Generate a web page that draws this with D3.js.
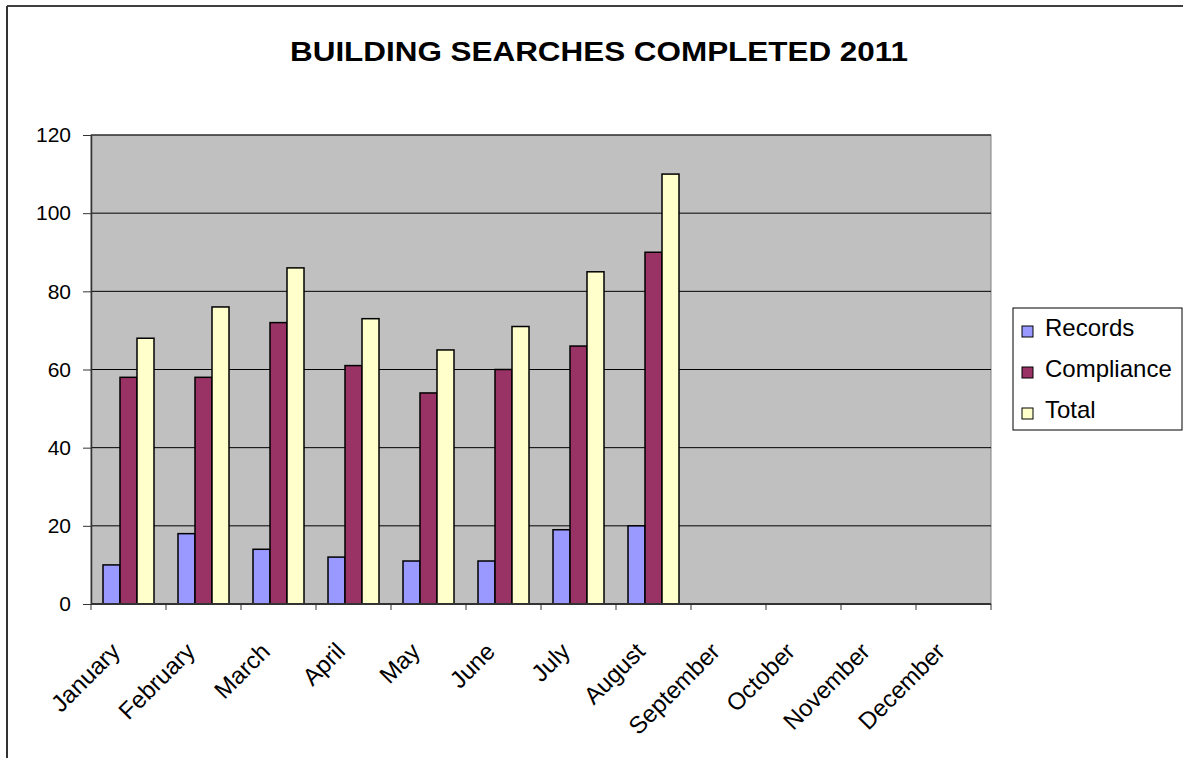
<!DOCTYPE html>
<html>
<head>
<meta charset="utf-8">
<script src="https://cdn.jsdelivr.net/npm/d3@7"></script>
<style>
  body { margin: 0; background: #fff; }
  text { font-family: "Liberation Sans", Arial, sans-serif; }
</style>
</head>
<body>
<div id="chart-area"></div>
<script>
const months = ["January", "February", "March", "April", "May", "June",
    "July", "August", "September", "October", "November", "December"];
const seriesNames = ["Records", "Compliance", "Total"];
const records = [10, 18, 14, 12, 11, 11, 19, 20];
const compliance = [58, 58, 72, 61, 54, 60, 66, 90];
const total = [68, 76, 86, 73, 65, 71, 85, 110];
const yTicks = [0, 20, 40, 60, 80, 100, 120];
const colors = ["#9999ff", "#993366", "#ffffcc"];

const width = 1183, height = 758;
const margin = { top: 135, right: 192, bottom: 154, left: 91 };
const innerW = width - margin.left - margin.right;
const innerH = height - margin.top - margin.bottom;

const svg = d3.select("#chart-area")
    .append("svg")
    .attr("width", width)
    .attr("height", height);

// outer frame (only top + left visible in the original)
svg.append("line").attr("x1", 7).attr("x2", width).attr("y1", 6).attr("y2", 6)
    .attr("stroke", "#000").attr("stroke-width", 1.5);
svg.append("line").attr("x1", 7).attr("x2", 7).attr("y1", 6).attr("y2", height)
    .attr("stroke", "#333").attr("stroke-width", 2);

svg.append("text")
    .attr("x", 599)
    .attr("y", 61)
    .attr("text-anchor", "middle")
    .attr("font-size", "27px")
    .attr("font-weight", "bold")
    .attr("textLength", 618)
    .attr("lengthAdjust", "spacingAndGlyphs")
    .text("BUILDING SEARCHES COMPLETED 2011");

const g = svg.append("g")
    .attr("transform", `translate(${margin.left}, ${margin.top})`);

const x0 = d3.scaleBand()
    .domain(months)
    .range([0, innerW])
    .paddingInner(0.32)
    .paddingOuter(0.16);

const x1 = d3.scaleBand()
    .domain(seriesNames)
    .range([0, x0.bandwidth()]);

const y = d3.scaleLinear()
    .domain([0, 120])
    .range([innerH, 0]);

g.append("rect")
    .attr("width", innerW)
    .attr("height", innerH)
    .attr("fill", "#c0c0c0")
    .attr("stroke", "#808080")
    .attr("stroke-width", 1);

// gridlines
g.selectAll(".grid")
    .data(yTicks.filter(d => d > 0))
    .enter()
    .append("line")
    .attr("class", "grid")
    .attr("x1", 0).attr("x2", innerW)
    .attr("y1", d => y(d)).attr("y2", d => y(d))
    .attr("stroke", "#000")
    .attr("stroke-width", 1);

const data = months.map((m, i) => ({
    month: m,
    values: [records[i], compliance[i], total[i]]
}));

const groups = g.selectAll(".month")
    .data(data.filter(d => d.values[0] !== undefined))
    .enter()
    .append("g")
    .attr("class", "month")
    .attr("transform", d => `translate(${x0(d.month)}, 0)`);

groups.selectAll("rect")
    .data(d => d.values.map((v, i) => ({ name: seriesNames[i], value: v, i: i })))
    .enter()
    .append("rect")
    .attr("x", d => x1(d.name))
    .attr("y", d => y(d.value))
    .attr("width", x1.bandwidth())
    .attr("height", d => innerH - y(d.value))
    .attr("fill", d => colors[d.i])
    .attr("stroke", "#000")
    .attr("stroke-width", 1.5);

// y axis
const yAxis = g.append("g")
    .call(d3.axisLeft(y).tickValues(yTicks).tickSize(8).tickPadding(12).tickSizeOuter(0));
yAxis.select(".domain").attr("stroke", "#333").attr("stroke-width", 1.5);
yAxis.selectAll("line").attr("stroke", "#333");
yAxis.selectAll("text")
    .attr("font-size", "21px")
    .attr("fill", "#000")
    .attr("font-family", "Liberation Sans, Arial, sans-serif");

// x axis: ticks between categories
const xAxis = g.append("g")
    .attr("transform", `translate(0, ${innerH})`);
xAxis.append("line")
    .attr("x1", 0).attr("x2", innerW)
    .attr("stroke", "#333").attr("stroke-width", 2);
const step = x0.step();
xAxis.selectAll(".xtick")
    .data(d3.range(months.length + 1))
    .enter()
    .append("line")
    .attr("class", "xtick")
    .attr("x1", d => d * step).attr("x2", d => d * step)
    .attr("y1", 0).attr("y2", 6)
    .attr("stroke", "#333");

xAxis.selectAll(".xlabel")
    .data(months)
    .enter()
    .append("text")
    .attr("class", "xlabel")
    .attr("text-anchor", "end")
    .attr("font-size", "24px")
    .attr("transform", d => {
        const cx = x0(d) + x0.bandwidth() / 2 - 7;
        return `translate(${cx}, 49) rotate(-45)`;
    })
    .text(d => d);

// legend
const legend = svg.append("g")
    .attr("transform", "translate(1013, 308)");
legend.append("rect")
    .attr("width", 169)
    .attr("height", 122)
    .attr("fill", "#fff")
    .attr("stroke", "#000")
    .attr("stroke-width", 1);
const items = legend.selectAll(".item")
    .data(seriesNames)
    .enter()
    .append("g")
    .attr("class", "item")
    .attr("transform", (d, i) => `translate(9, ${28 + i * 41})`);
items.append("rect")
    .attr("x", 0).attr("y", -10)
    .attr("width", 11).attr("height", 11)
    .attr("fill", (d, i) => colors[i])
    .attr("stroke", "#000")
    .attr("stroke-width", 1);
items.append("text")
    .attr("x", 23)
    .attr("y", 0)
    .attr("font-size", "24px")
    .text(d => d);
</script>
</body>
</html>
